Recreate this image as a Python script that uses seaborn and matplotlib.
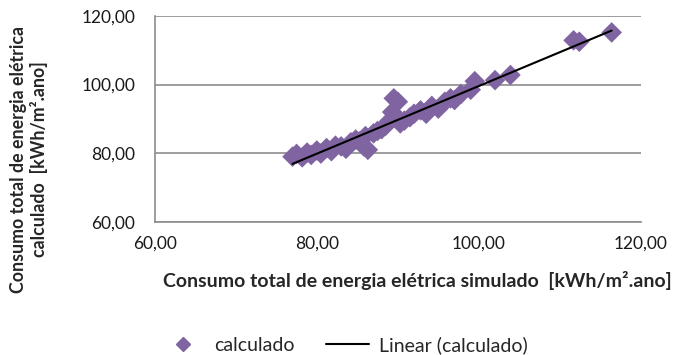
import matplotlib
matplotlib.use("Agg")
import matplotlib.pyplot as plt
from matplotlib.lines import Line2D
import seaborn as sns
import pandas as pd

# Simulated vs. calculated total electric energy consumption [kWh/m².ano]
simulado = [
    77.0, 77.5, 78.2, 78.8, 79.3, 80.0, 80.5, 81.2, 81.8, 82.3,
    83.0, 83.6, 84.2, 84.8, 85.3, 85.8, 86.3, 86.0, 87.0, 87.5,
    88.0, 88.5, 89.0, 89.3, 89.5, 90.0, 89.8, 90.3, 90.8, 91.5,
    92.0, 92.8, 93.5, 94.2, 95.0, 95.8, 96.5, 97.0, 97.8, 99.0,
    99.5, 102.0, 103.9, 111.7, 112.4, 116.4,
]
calculado = [
    79.0, 79.8, 78.8, 80.2, 79.5, 80.8, 79.9, 81.5, 80.6, 82.2,
    82.0, 81.3, 83.2, 84.0, 83.5, 82.0, 81.0, 85.0, 85.8, 86.5,
    87.0, 88.0, 89.5, 92.0, 96.0, 95.0, 90.5, 88.7, 89.5, 90.5,
    91.5, 92.5, 91.5, 93.8, 93.0, 95.0, 96.0, 95.5, 97.3, 98.5,
    101.0, 101.3, 102.8, 112.9, 112.5, 115.2,
]
df = pd.DataFrame({"simulado": simulado, "calculado": calculado})

x_ticks = [60, 80, 100, 120]
y_ticks = [60, 80, 100, 120]

sns.set_theme(style="white")
plt.rcParams["font.family"] = ["Lato", "DejaVu Sans"]

purple = "#8064A2"
grid_gray = "#8C8C8C"

fig = plt.figure(figsize=(6.76, 3.55), dpi=100)
ax = fig.add_axes([0.229, 0.375, 0.719, 0.580])

sns.scatterplot(data=df, x="simulado", y="calculado", marker="D", s=110,
                color=purple, edgecolor="none", linewidth=0, ax=ax, zorder=3)
sns.regplot(data=df, x="simulado", y="calculado", scatter=False, ci=None,
            truncate=True, color="black", line_kws={"linewidth": 1.5, "zorder": 4},
            ax=ax)

ax.set_xlim(60, 120)
ax.set_ylim(60, 120)
ax.set_xticks(x_ticks)
ax.set_yticks(y_ticks)
fmt = lambda v: f"{v:.2f}".replace(".", ",")
ax.set_xticklabels([fmt(v) for v in x_ticks], fontsize=12.5, color="#1a1a1a")
ax.set_yticklabels([fmt(v) for v in y_ticks], fontsize=12.5, color="#1a1a1a")
ax.tick_params(axis="x", length=0, pad=10)
ax.tick_params(axis="y", length=0, pad=14)

ax.yaxis.grid(True, color=grid_gray, linewidth=1.2)
ax.xaxis.grid(False)
for side in ("top", "right"):
    ax.spines[side].set_visible(False)
for side in ("left", "bottom"):
    ax.spines[side].set_color(grid_gray)
    ax.spines[side].set_linewidth(1.2)

ax.set_xlabel("")
ax.set_ylabel("")
fig.text(0.618, 0.211, "Consumo total de energia elétrica simulado  [kWh/m².ano]",
         ha="center", va="center", fontsize=14, fontweight="bold")
fig.text(0.043, 0.552, "Consumo total de energia elétrica\ncalculado  [kWh/m².ano]",
         ha="center", va="center", rotation=90, fontsize=12.8, fontweight="bold",
         multialignment="center", linespacing=1.15)

handles = [
    Line2D([], [], marker="D", linestyle="none", color=purple, markersize=7),
    Line2D([], [], color="black", linewidth=1.5),
]
fig.legend(handles, ["calculado", "Linear (calculado)"], loc="center",
           bbox_to_anchor=(0.51, 0.028), ncol=2, frameon=False, fontsize=14,
           handlelength=2.2, columnspacing=1.6, handletextpad=0.5)

fig.savefig("out.png", dpi=100)
